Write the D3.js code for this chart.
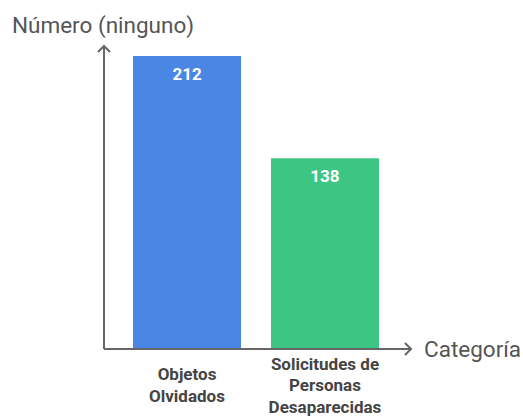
<!DOCTYPE html>
<html>
<head>
<meta charset="utf-8">
<script src="https://cdn.jsdelivr.net/npm/d3@7"></script>
<style>
  body { margin: 0; background: #fff; }
  svg { display: block; font-family: Roboto, "Noto Sans", sans-serif; }
</style>
</head>
<body>
<svg id="canvas"></svg>
<script>
//--data
let categories = [["Objetos", "Olvidados"], ["Solicitudes de", "Personas", "Desaparecidas"]];
let values = [212, 138];
let colors = ["#4a86e4", "#3dc583"];
let yTitle = "Número (ninguno)";
let xTitle = "Categoría";
//--

let width = 523;
let height = 417;

let canvas = d3.select("#canvas")
canvas.attr("width", width)
canvas.attr("height", height)

let originX = 104;
let originY = 349;

let x = d3.scaleBand()
          .domain(d3.range(values.length))
          .range([133, 379])
          .paddingInner(0.217)
          .paddingOuter(0)

let y = d3.scaleLinear()
          .domain([0, 212])
          .range([originY, 56])

//--bars
canvas.selectAll("rect.bar")
      .data(values)
      .enter()
      .append("rect")
      .attr("class", "bar")
      .attr("x", (d, i) => x(i))
      .attr("width", x.bandwidth())
      .attr("y", d => y(d))
      .attr("height", d => y(0) - y(d))
      .attr("fill", (d, i) => colors[i])

canvas.selectAll("text.value")
      .data(values)
      .enter()
      .append("text")
      .attr("class", "value")
      .attr("x", (d, i) => x(i) + x.bandwidth() / 2)
      .attr("y", d => y(d) + 24)
      .attr("text-anchor", "middle")
      .attr("fill", "#fff")
      .attr("font-weight", "bold")
      .attr("font-size", 17)
      .text(d => d)

//--axes
let axisColor = "#666";
canvas.append("line")
      .attr("x1", originX).attr("y1", originY)
      .attr("x2", originX).attr("y2", 46)
      .attr("stroke", axisColor).attr("stroke-width", 2)
canvas.append("path")
      .attr("d", `M${originX - 6},${52} L${originX},${46} L${originX + 6},${52}`)
      .attr("fill", "none").attr("stroke", axisColor).attr("stroke-width", 2)

canvas.append("line")
      .attr("x1", originX).attr("y1", originY)
      .attr("x2", 411).attr("y2", originY)
      .attr("stroke", axisColor).attr("stroke-width", 2)
canvas.append("path")
      .attr("d", `M${405},${originY - 6} L${411},${originY} L${405},${originY + 6}`)
      .attr("fill", "none").attr("stroke", axisColor).attr("stroke-width", 2)

//--titles
canvas.append("text")
      .attr("x", 12).attr("y", 33)
      .attr("fill", "#555")
      .attr("font-size", 22.5)
      .text(yTitle)

canvas.append("text")
      .attr("x", 424).attr("y", originY + 8)
      .attr("fill", "#555")
      .attr("font-size", 22.5)
      .text(xTitle)

//--category labels
let lineH = 21.5;
let labels = canvas.selectAll("text.cat")
      .data(categories)
      .enter()
      .append("text")
      .attr("class", "cat")
      .attr("text-anchor", "middle")
      .attr("fill", "#444")
      .attr("font-weight", "bold")
      .attr("font-size", 17)

labels.each(function (lines, i) {
    let t = d3.select(this)
    let startY = 391 - (lines.length - 1) * lineH / 2
    lines.forEach((ln, k) => {
        t.append("tspan")
         .attr("x", x(i) + x.bandwidth() / 2)
         .attr("y", startY + k * lineH)
         .text(ln)
    })
})
</script>
</body>
</html>
